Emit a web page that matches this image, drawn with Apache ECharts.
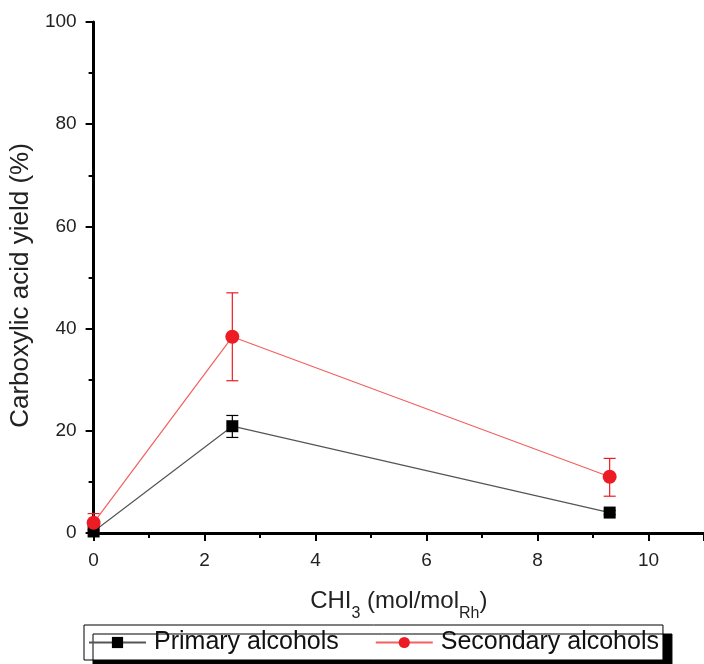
<!DOCTYPE html>
<html>
<head>
<meta charset="utf-8">
<script src="https://cdn.jsdelivr.net/npm/echarts@6/dist/echarts.min.js"></script>
<style>
  html,body{margin:0;padding:0;background:#fff;}
  #main{width:704px;height:664px;}
</style>
</head>
<body>
<div id="main"></div>
<script>
  // CHI3 loading (mol/mol Rh)
  var xData = [0, 2.5, 9.3];

  // primary alcohols, yield and error range
  var primaryY = [0.3, 20.9, 4.0];
  var primaryLow = [0, 18.7, 3.6];
  var primaryHigh = [0.6, 23.0, 4.4];

  // secondary alcohols
  var secondaryY = [2.0, 38.4, 11.0];
  var secondaryLow = [0.2, 29.8, 7.2];
  var secondaryHigh = [3.8, 47.0, 14.6];

  function pts(ys){
    return xData.map(function(x, i){ return [x, ys[i]]; });
  }
  function errs(lo, hi){
    return xData.map(function(x, i){ return [x, lo[i], hi[i]]; });
  }

  function errBar(color){
    return function(params, api){
      var x = api.value(0);
      var lo = api.coord([x, api.value(1)]);
      var hi = api.coord([x, api.value(2)]);
      var w = 6;
      var st = {stroke: color, lineWidth: 1.2};
      return {
        type: 'group',
        children: [
          {type: 'line', shape: {x1: hi[0], y1: hi[1], x2: lo[0], y2: lo[1]}, style: st},
          {type: 'line', shape: {x1: hi[0]-w, y1: hi[1], x2: hi[0]+w, y2: hi[1]}, style: st},
          {type: 'line', shape: {x1: lo[0]-w, y1: lo[1], x2: lo[0]+w, y2: lo[1]}, style: st}
        ]
      };
    };
  }

  var ff = 'Liberation Sans, Arial, sans-serif';
  var axisTxt = {color: '#222', fontSize: 19, fontFamily: ff};

  var myChart = echarts.init(document.getElementById('main'));
  var option = {
    animation: false,
    grid: {left: 93, top: 22, width: 615, height: 511},
    legend: {
      left: 84, top: 625, width: 610,
      itemWidth: 57, itemHeight: 14, itemGap: 36,
      padding: [2, 4, 2, 4],
      borderColor: '#000', borderWidth: 1,
      backgroundColor: '#fff',
      shadowColor: '#000', shadowOffsetX: 9, shadowOffsetY: 9, shadowBlur: 0,
      textStyle: {fontSize: 25, lineHeight: 31, color: '#111', fontFamily: ff, padding: [0, 0, 0, 3]},
      data: ['Primary alcohols', 'Secondary alcohols']
    },
    xAxis: {
      type: 'value', min: 0, max: 11, interval: 2,
      name: '{n|CHI}{s|3}{n| (mol/mol}{s|Rh}{n|)}',
      nameLocation: 'middle', nameGap: 52,
      nameTextStyle: {
        rich: {
          n: {fontSize: 24, color: '#222', fontFamily: ff, verticalAlign: 'bottom', lineHeight: 28},
          s: {fontSize: 16, color: '#222', fontFamily: ff, verticalAlign: 'bottom', lineHeight: 20, padding: [0, 0, -9, 0]}
        }
      },
      axisLine: {onZero: false, lineStyle: {color: '#000', width: 3}},
      axisTick: {length: 8, lineStyle: {width: 2, color: '#000'}},
      minorTick: {show: true, splitNumber: 2, length: 5, lineStyle: {width: 2, color: '#000'}},
      splitLine: {show: false},
      axisLabel: Object.assign({margin: 18, showMaxLabel: false}, axisTxt)
    },
    yAxis: {
      type: 'value', min: 0, max: 100, interval: 20,
      name: 'Carboxylic acid yield (%)',
      nameLocation: 'middle', nameGap: 57,
      nameTextStyle: {fontSize: 26, color: '#222', fontFamily: ff, padding: [0, 16, 0, 0]},
      axisLine: {show: true, onZero: false, lineStyle: {color: '#000', width: 3}},
      axisTick: {show: true, length: 8, lineStyle: {width: 2, color: '#000'}},
      minorTick: {show: true, splitNumber: 2, length: 5, lineStyle: {width: 2, color: '#000'}},
      splitLine: {show: false},
      axisLabel: Object.assign({margin: 17}, axisTxt)
    },
    series: [
      {
        name: 'Primary alcohols', type: 'line', data: pts(primaryY),
        symbol: 'rect', symbolSize: 12, z: 3,
        itemStyle: {color: '#000'},
        lineStyle: {color: '#555', width: 1.2}
      },
      {
        name: 'Secondary alcohols', type: 'line', data: pts(secondaryY),
        symbol: 'circle', symbolSize: 14, z: 3,
        itemStyle: {color: '#ec1c24'},
        lineStyle: {color: '#f26060', width: 1.2}
      },
      {
        type: 'custom', data: errs(primaryLow, primaryHigh), z: 2,
        renderItem: errBar('#000')
      },
      {
        type: 'custom', data: errs(secondaryLow, secondaryHigh), z: 2,
        renderItem: errBar('#ec1c24')
      }
    ]
  };
  myChart.setOption(option);
</script>
</body>
</html>
